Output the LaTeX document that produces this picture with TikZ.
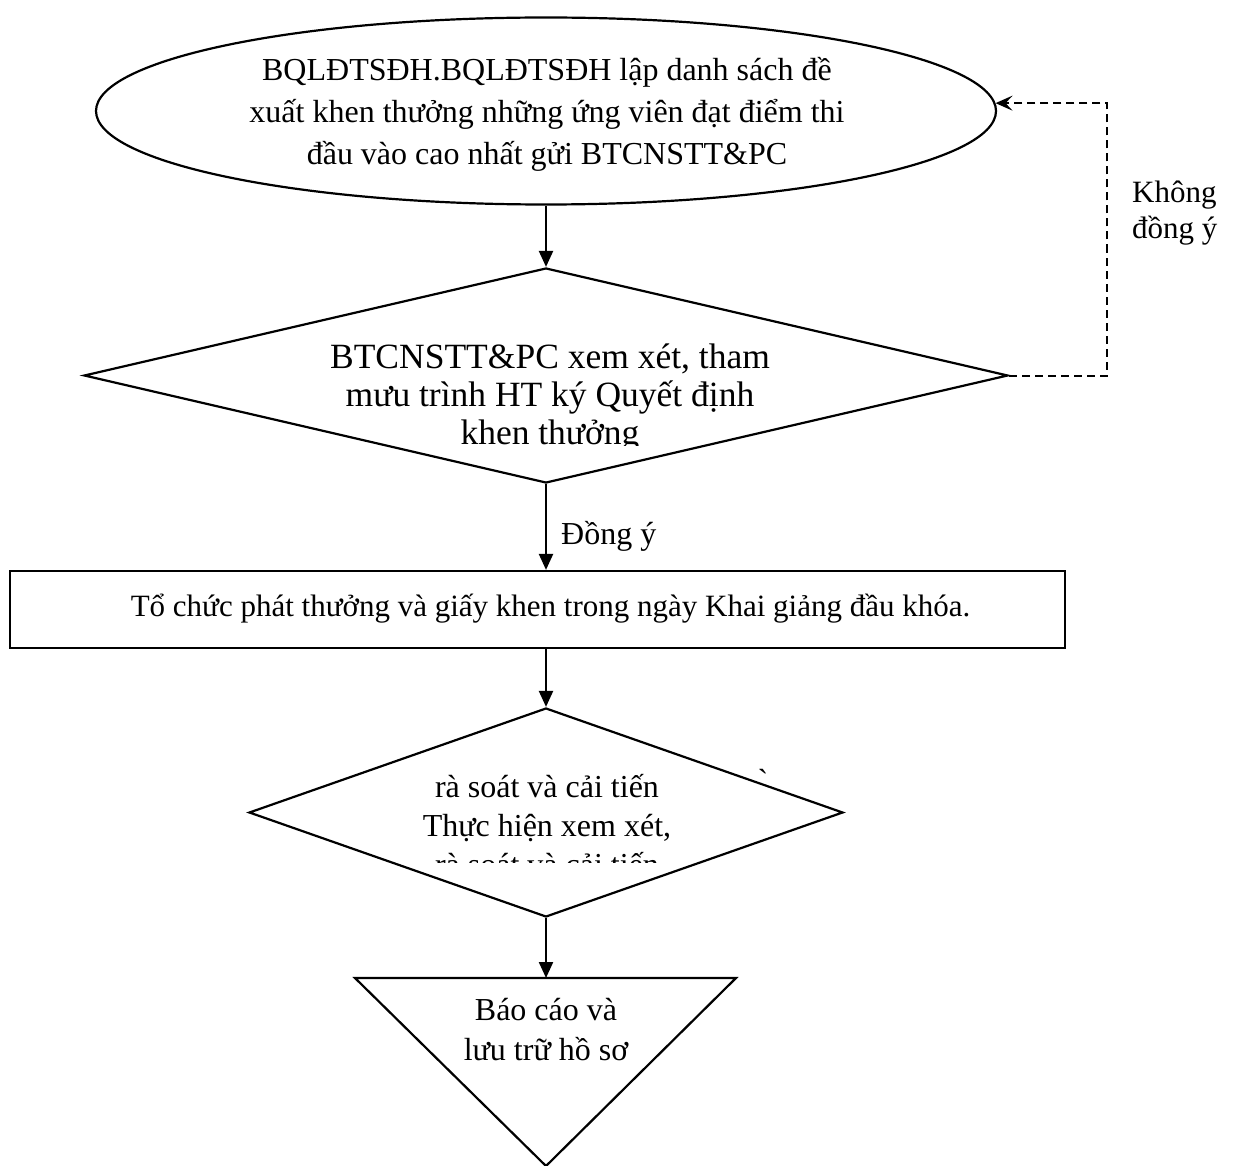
\documentclass[tikz,border=0pt]{standalone}
\usepackage{fontspec}
\setmainfont{Liberation Serif}
\usetikzlibrary{shapes.geometric,arrows.meta}
\begin{document}
\begin{tikzpicture}[x=1pt,y=-1pt,
  shp/.style={draw,line width=2.2pt,inner sep=0pt},
  txt/.style={align=center,inner sep=0pt,font=\fontsize{32}{42}\selectfont},
  lbl/.style={align=left,inner sep=0pt,font=\fontsize{31}{36}\selectfont},
  flow/.style={line width=2.2pt,-{Triangle[length=16pt,width=14pt]}},
  back/.style={line width=2pt,dash pattern=on 8pt off 5pt,-{Stealth[length=17pt,width=15pt,inset=7pt]}}]
\useasboundingbox (0,0) rectangle (1233,1166);
% shapes
\node[shp,ellipse,minimum width=900pt,minimum height=187pt] (e) at (546,111) {};
\node[shp,diamond,minimum width=924pt,minimum height=215pt] (d1) at (546,375.5) {};
\node[shp,rectangle,minimum width=1055pt,minimum height=77pt] (r) at (537.5,609.5) {};
\node[shp,diamond,minimum width=594pt,minimum height=209pt] (d2) at (546,812.5) {};
\draw[shp] (355,978) coordinate (tl) -- (736,978) coordinate (tr) -- (546,1166) coordinate (tb) -- cycle;
\coordinate (t) at (546,978);
% texts
\node[txt] (et) at (547,114) {BQLĐTSĐH.BQLĐTSĐH lập danh sách đề\\xuất khen thưởng những ứng viên đạt điểm thi\\đầu vào cao nhất gửi BTCNSTT\&PC};
\begin{scope}
\clip (300,330) rectangle (800,445);
\node[txt,font=\fontsize{35.5}{38}\selectfont] (d1t) at (550,398) {BTCNSTT\&PC xem xét, tham\\mưu trình HT ký Quyết định\\khen thưởng};
\end{scope}
\node[txt,font=\fontsize{31}{40}\selectfont] (rt) at (550.5,609) {Tổ chức phát thưởng và giấy khen trong ngày Khai giảng đầu khóa.};
\begin{scope}
\clip (380,740) rectangle (720,862);
\node[txt,font=\fontsize{32}{39}\selectfont] (d2t) at (547,825) {rà soát và cải tiến\\Thực hiện xem xét,\\rà soát và cải tiến};
\end{scope}
\node[txt] (tick) at (763,780) {\textasciigrave};
\node[txt,font=\fontsize{32}{40}\selectfont] (tt) at (546,1030) {Báo cáo và\\lưu trữ hồ sơ};
\node[txt,anchor=west,font=\fontsize{32}{40}\selectfont] (ly) at (561,536) {Đồng ý};
\node[lbl,anchor=west] (ln) at (1132,213) {Không\\đồng ý};
% connectors
\draw[flow] (e.south) -- (d1.north);
\draw[flow] (d1.south) -- (r.north -| d1.south);
\draw[flow] (r.south -| d2.north) -- (d2.north);
\draw[flow] (d2.south) -- (t);
\draw[back] (d1.east) -- ++(98,0) |- (e.1.6);
\end{tikzpicture}
\end{document}
